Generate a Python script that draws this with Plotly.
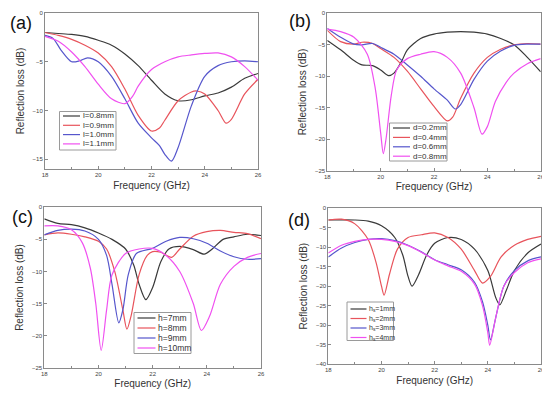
import plotly.graph_objects as go

# ---------------- data ----------------
# Panel (a)
a_l08_x = [18, 18.5, 19, 19.5, 20, 20.5, 21, 21.5, 22, 22.5, 23, 23.5, 24, 24.5, 25, 25.5, 26]
a_l08_y = [-2.0, -2.1, -2.2, -2.4, -2.8, -3.3, -4.2, -5.4, -6.9, -8.3, -9.0, -8.9, -8.5, -8.2, -7.6, -6.7, -6.2]
a_l09_x = [18, 18.5, 19, 19.5, 20, 20.5, 21, 21.5, 22, 22.3, 22.5, 23, 23.5, 23.7, 24, 24.5, 24.8, 25, 25.5, 26]
a_l09_y = [-2.0, -2.3, -2.7, -3.3, -4.1, -5.5, -7.8, -10.5, -12.1, -11.8, -11.0, -9.0, -8.1, -8.0, -8.3, -10.0, -11.3, -10.9, -8.3, -6.8]
a_l10_x = [18, 18.3, 18.6, 19, 19.3, 19.6, 20, 20.5, 21, 21.5, 22, 22.3, 22.5, 22.75, 23, 23.5, 24, 24.5, 25, 25.5, 26]
a_l10_y = [-2.3, -2.6, -3.8, -5.0, -4.9, -4.6, -5.0, -6.5, -8.8, -11.3, -12.8, -13.6, -14.5, -15.2, -13.8, -9.5, -6.5, -5.4, -5.0, -4.9, -5.0]
a_l11_x = [18, 18.5, 19, 19.5, 20, 20.5, 21, 21.3, 21.5, 22, 22.5, 23, 23.5, 24, 24.5, 25, 25.5, 26]
a_l11_y = [-2.4, -2.9, -4.0, -5.5, -7.3, -8.8, -9.3, -8.5, -7.5, -5.8, -5.0, -4.5, -4.3, -4.15, -4.1, -4.5, -5.5, -6.9]

# Panel (b)
b_d02_x = [18, 18.5, 19, 19.3, 19.7, 20, 20.3, 20.5, 20.8, 21, 21.5, 22, 22.5, 23, 23.5, 24, 24.5, 25, 25.5, 26]
b_d02_y = [-4.3, -5.8, -7.5, -8.2, -8.3, -9.0, -9.9, -9.5, -7.5, -5.8, -4.0, -3.3, -3.0, -2.9, -3.0, -3.3, -4.0, -5.0, -7.0, -9.3]
b_d04_x = [18, 18.5, 19, 19.3, 19.7, 20, 20.5, 21, 21.5, 22, 22.5, 22.7, 23, 23.5, 24, 24.5, 25, 25.5, 26]
b_d04_y = [-2.7, -4.5, -4.9, -4.6, -4.8, -5.6, -7.0, -9.2, -12.0, -14.8, -17.1, -16.5, -13.5, -9.5, -7.0, -5.7, -5.0, -4.8, -4.9]
b_d06_x = [18, 18.5, 19, 19.3, 19.7, 20, 20.5, 21, 21.5, 22, 22.5, 22.8, 23, 23.5, 24, 24.5, 25, 25.5, 26]
b_d06_y = [-2.4, -3.8, -4.9, -5.0, -4.8, -5.4, -6.5, -8.2, -10.0, -12.0, -13.8, -15.2, -14.5, -10.5, -7.6, -6.0, -5.1, -4.9, -4.9]
b_d08_x = [18, 18.5, 19, 19.5, 19.8, 20.0, 20.1, 20.2, 20.4, 20.6, 21, 21.5, 22, 22.5, 23, 23.5, 23.8, 24, 24.3, 24.7, 25, 25.5, 26]
b_d08_y = [-2.5, -2.9, -3.8, -6.5, -12.0, -19.0, -22.3, -20.0, -13.0, -9.0, -7.2, -6.5, -6.1, -7.0, -9.5, -15.0, -19.2, -18.0, -14.0, -11.0, -9.5, -8.0, -7.2]

# Panel (c)
c_h7_x = [18, 18.5, 19, 19.5, 20, 20.5, 21, 21.3, 21.5, 21.75, 22, 22.3, 22.6, 23, 23.5, 23.9, 24.2, 24.6, 25, 25.5, 26]
c_h7_y = [-1.8, -2.5, -2.7, -3.2, -4.0, -5.0, -6.5, -9.0, -12.0, -14.4, -12.5, -8.5, -6.5, -6.1, -6.6, -7.3, -6.5, -5.0, -4.6, -4.2, -4.4]
c_h8_x = [18, 18.5, 19, 19.5, 20, 20.3, 20.6, 20.9, 21.05, 21.2, 21.5, 21.8, 22, 22.3, 22.7, 23, 23.5, 24, 24.5, 25, 25.5, 26]
c_h8_y = [-4.3, -4.0, -4.2, -4.6, -5.3, -6.5, -10.0, -16.0, -19.0, -17.0, -10.5, -7.5, -6.9, -7.0, -7.8, -6.5, -4.5, -3.8, -3.6, -3.9, -4.1, -4.9]
c_h9_x = [18, 18.5, 19, 19.5, 20, 20.3, 20.5, 20.75, 20.9, 21.1, 21.4, 22, 22.5, 23, 23.5, 24, 24.5, 25, 25.5, 26]
c_h9_y = [-4.3, -3.6, -3.4, -3.7, -5.0, -7.5, -12.0, -18.0, -16.0, -10.5, -7.2, -6.4, -5.3, -4.7, -4.9, -5.6, -6.8, -7.7, -8.1, -8.0]
c_h10_x = [18, 18.5, 19, 19.4, 19.7, 19.9, 20.1, 20.3, 20.5, 21, 21.5, 22, 22.5, 23, 23.5, 23.8, 24.1, 24.5, 25, 25.5, 26]
c_h10_y = [-2.9, -2.9, -3.5, -5.5, -9.5, -15.0, -22.3, -16.0, -10.5, -7.2, -6.5, -6.4, -7.5, -10.0, -15.0, -19.2, -17.0, -12.0, -9.2, -7.8, -7.2]

# Panel (d)
d_h1_x = [18, 19, 19.5, 20, 20.5, 20.8, 21.0, 21.15, 21.4, 21.7, 22, 22.5, 23, 23.5, 24, 24.3, 24.45, 24.7, 25, 25.5, 26]
d_h1_y = [-3.0, -3.0, -3.3, -4.5, -7.5, -12.0, -17.5, -20.0, -17.0, -12.0, -9.0, -7.5, -8.0, -10.5, -16.0, -23.0, -24.8, -21.0, -16.0, -11.5, -9.2]
d_h2_x = [18, 18.5, 19, 19.5, 19.8, 20.0, 20.1, 20.3, 20.6, 21, 21.5, 22, 22.5, 23, 23.5, 23.8, 24.1, 24.5, 25, 25.5, 26]
d_h2_y = [-3.0, -2.8, -4.0, -8.0, -14.0, -20.0, -22.3, -17.0, -10.5, -7.5, -6.8, -6.3, -7.5, -10.5, -16.0, -19.2, -17.5, -12.5, -9.5, -8.0, -7.2]
d_h3_x = [18, 18.5, 19, 19.5, 20, 20.5, 21, 21.5, 22, 22.5, 23, 23.5, 23.8, 24.0, 24.1, 24.3, 24.6, 25, 25.5, 26]
d_h3_y = [-12.5, -10.2, -8.8, -8.0, -7.8, -8.3, -9.5, -11.2, -13.2, -14.5, -15.8, -19.0, -24.0, -30.0, -33.8, -28.0, -20.0, -16.0, -13.5, -12.5]
d_h4_x = [18, 18.5, 19, 19.5, 20, 20.5, 21, 21.5, 22, 22.5, 23, 23.5, 23.8, 24.0, 24.07, 24.3, 24.6, 25, 25.5, 26]
d_h4_y = [-11.5, -9.5, -8.5, -8.0, -8.0, -8.5, -9.6, -11.3, -13.3, -14.8, -16.2, -19.5, -25.0, -32.0, -35.2, -28.0, -20.0, -16.5, -14.0, -13.0]

names_a = ["l=0.8mm", "l=0.9mm", "l=1.0mm", "l=1.1mm"]
names_b = ["d=0.2mm", "d=0.4mm", "d=0.6mm", "d=0.8mm"]
names_c = ["h=7mm", "h=8mm", "h=9mm", "h=10mm"]
names_d = ["h<sub>s</sub>=1mm", "h<sub>s</sub>=2mm", "h<sub>s</sub>=3mm", "h<sub>s</sub>=4mm"]
panel_labels = ["(a)", "(b)", "(c)", "(d)"]
x_ticks = [18, 20, 22, 24, 26]

colors = ["#3a3a3a", "#e8545c", "#5656cc", "#f050f0"]

# The page body keeps the browser's 8px default margin, so the figure is drawn
# at (8, 8) in the 550x399 window; size it to the visible area.
OFF = 8
W, H = 550 - OFF, 399 - OFF


def px(x):
    return (x - OFF) / W


def py(y):
    return 1 - (y - OFF) / H


fig = go.Figure()

panels = [
    ([(a_l08_x, a_l08_y), (a_l09_x, a_l09_y), (a_l10_x, a_l10_y), (a_l11_x, a_l11_y)], names_a, "", [-16, 0], [0, -5, -10, -15]),
    ([(b_d02_x, b_d02_y), (b_d04_x, b_d04_y), (b_d06_x, b_d06_y), (b_d08_x, b_d08_y)], names_b, "2", [-25, 0], [0, -5, -10, -15, -20, -25]),
    ([(c_h7_x, c_h7_y), (c_h8_x, c_h8_y), (c_h9_x, c_h9_y), (c_h10_x, c_h10_y)], names_c, "3", [-25, 0], [0, -5, -10, -15, -20, -25]),
    ([(d_h1_x, d_h1_y), (d_h2_x, d_h2_y), (d_h3_x, d_h3_y), (d_h4_x, d_h4_y)], names_d, "4", [-40, 0], [0, -5, -10, -15, -20, -25, -30, -35, -40]),
]

# plot frames in window pixels: left, right, top, bottom
frames = [
    (45.0, 258.0, 13.0, 169.0),
    (327.3, 540.7, 13.3, 170.7),
    (44.3, 261.0, 207.3, 367.7),
    (328.3, 541.0, 208.3, 364.0),
]
# legend boxes in window pixels: left, top, width, height, first-entry y, spacing, line length, font size
legend_boxes = [
    (59.5, 111.5, 56.5, 38.5, 116.0, 9.3, 17, 8),
    (389.5, 123.0, 57.5, 38.0, 128.0, 9.4, 17, 8),
    (134.0, 312.5, 57.0, 41.0, 318.0, 10.0, 18, 8.5),
    (347.0, 302.0, 46.5, 38.5, 309.0, 9.5, 16, 7),
]
label_pos = [(21, 23), (300, 21), (22, 217), (299, 220)]

for i, (series, names, suf, yr, yt) in enumerate(panels):
    for j, ((xs, ys), nm) in enumerate(zip(series, names)):
        fig.add_trace(go.Scatter(
            x=xs, y=ys, name=nm, mode="lines",
            line=dict(color=colors[j], width=1.2, shape="spline", smoothing=0.8),
            xaxis="x" + suf, yaxis="y" + suf, showlegend=False,
        ))
    fl, fr, ft, fb = frames[i]
    axcommon = dict(showline=True, mirror=True, linecolor="#8a8a8a", linewidth=1,
                    ticks="inside", ticklen=3, tickcolor="#8a8a8a",
                    tickfont=dict(size=6, color="#444", family="Liberation Sans"),
                    showgrid=False, zeroline=False, automargin=False)
    fig.layout["xaxis" + suf] = dict(
        domain=[px(fl), px(fr)], range=[18, 26], anchor="y" + suf,
        tickvals=x_ticks,
        title=dict(text="Frequency (GHz)", font=dict(size=10, color="#333", family="Liberation Sans"), standoff=4),
        minor=dict(tickvals=[19, 21, 23, 25], ticks="inside", ticklen=2, tickcolor="#8a8a8a"),
        **axcommon)
    fig.layout["yaxis" + suf] = dict(
        domain=[py(fb), py(ft)], range=yr, anchor="x" + suf,
        tickvals=yt,
        title=dict(text="Reflection loss (dB)", font=dict(size=10, color="#333", family="Liberation Sans"), standoff=6),
        **axcommon)

    # manual compact legend, like the reference
    lx, ly, lw, lh, y0, dy, ll, fs = legend_boxes[i]
    fig.add_shape(type="rect", xref="paper", yref="paper",
                  x0=px(lx), x1=px(lx + lw), y0=py(ly + lh), y1=py(ly),
                  line=dict(color="#9a9a9a", width=1), fillcolor="white", layer="above")
    for j, nm in enumerate(names):
        yy = y0 + j * dy
        fig.add_shape(type="line", xref="paper", yref="paper",
                      x0=px(lx + 3.5), x1=px(lx + 3.5 + ll), y0=py(yy), y1=py(yy),
                      line=dict(color=colors[j], width=1.2), layer="above")
        fig.add_annotation(text=nm, xref="paper", yref="paper",
                           x=px(lx + 5 + ll), y=py(yy), xanchor="left", yanchor="middle",
                           showarrow=False, borderpad=0,
                           font=dict(size=fs, color="#333", family="Liberation Sans"))

    fig.add_annotation(text=panel_labels[i], xref="paper", yref="paper",
                       x=px(label_pos[i][0]), y=py(label_pos[i][1]),
                       showarrow=False, font=dict(size=18, color="#111", family="Liberation Sans"),
                       xanchor="center", yanchor="middle")

fig.update_layout(
    width=W, height=H, margin=dict(l=0, r=0, t=0, b=0, autoexpand=False),
    paper_bgcolor="white", plot_bgcolor="white", showlegend=False,
)

fig.write_html("out.html")
